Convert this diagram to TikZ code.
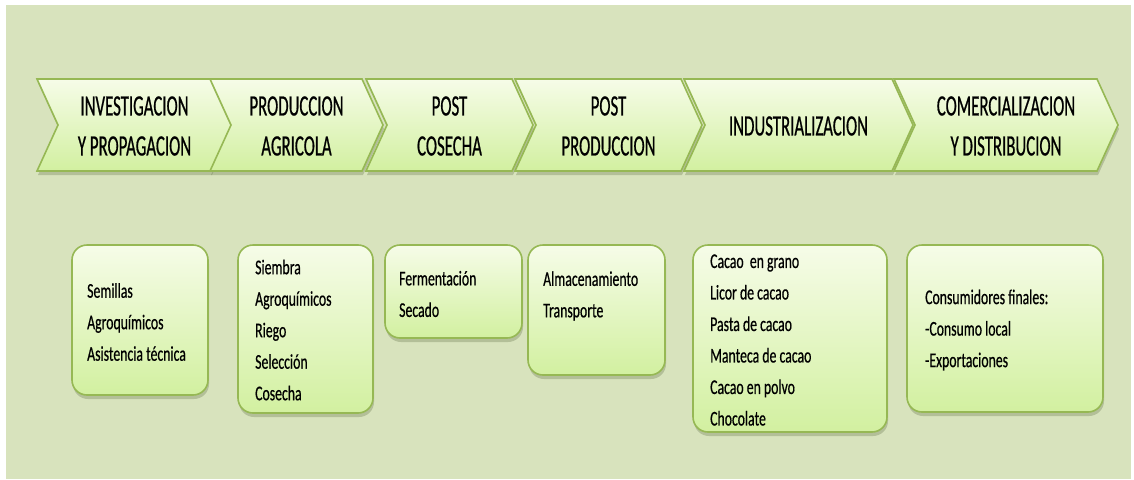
\documentclass[tikz,border=0pt]{standalone}
\usepackage{fontspec}
\setmainfont{Carlito}
\newfontfamily\headfont[FakeStretch=0.57, FakeBold=0.6]{Carlito}
\newfontfamily\itemfont[FakeStretch=0.655, FakeBold=0.5]{Carlito}
\usetikzlibrary{shadows}
\definecolor{bgcol}{RGB}{216,227,189}
\definecolor{edgecol}{RGB}{150,184,84}
\definecolor{lighttop}{RGB}{246,252,232}
\definecolor{greenbot}{RGB}{210,240,160}
\definecolor{shadowcol}{RGB}{110,125,85}
\tikzset{
  softshadow/.style={drop shadow={shadow xshift=1pt, shadow yshift=-4pt, fill=shadowcol, opacity=.35}},
  chevron/.style={draw=edgecol, line width=1.6pt, top color=lighttop, bottom color=greenbot, softshadow},
  headtxt/.style={font=\headfont\fontsize{29.5}{40}\selectfont, align=center, inner sep=0pt},
  itembox/.style={draw=edgecol, line width=1.6pt, rounded corners=15pt, top color=lighttop, bottom color=greenbot, softshadow, inner sep=0pt},
  itemtxt/.style={font=\itemfont\fontsize{21}{31.5}\selectfont, align=left, inner sep=0pt, anchor=west}
}
\begin{document}
\begin{tikzpicture}[x=1pt, y=-1pt]
	\useasboundingbox (0,0) rectangle (1134,479);
	\fill[bgcol] (6,5) rectangle (1131,479);

	% Stages
	\foreach \nm/\xl/\xr/\txt in {inv/37/232/{INVESTIGACION\\Y PROPAGACION}, prod/210/383/{PRODUCCION\\AGRICOLA}, cos/366/533/{POST\\COSECHA}, postp/515/702/{POST\\PRODUCCION}, ind/684/913/{INDUSTRIALIZACION}, com/894/1118/{COMERCIALIZACION\\Y DISTRIBUCION}}{
		\path[chevron] (\xl,79) -- ({\xr-21},79) -- (\xr,125) -- ({\xr-21},171) -- (\xl,171) -- ({\xl+21},125) -- cycle;
		\node[headtxt] (\nm) at ({(\xl+\xr)/2},126) {\txt};
	}

	% Boxes
	\node[itembox, minimum width=136pt, minimum height=150pt] (sem) at (140,320) {};
	\node[itembox, minimum width=135pt, minimum height=168pt] (siem) at (305.5,329) {};
	\node[itembox, minimum width=137pt, minimum height=93pt] (ferm) at (453.5,291.5) {};
	\node[itembox, minimum width=137pt, minimum height=130pt] (alm) at (596.5,310) {};
	\node[itembox, minimum width=194pt, minimum height=187pt] (cac) at (790,338.5) {};
	\node[itembox, minimum width=196pt, minimum height=167pt] (cons) at (1005,328.5) {};

	% Box texts
	\node[itemtxt] (semtxt) at (87,322) {Semillas\\Agroquímicos\\Asistencia técnica};
	\node[itemtxt] (siemtxt) at (255,330) {Siembra\\Agroquímicos\\Riego\\Selección\\Cosecha};
	\node[itemtxt] (fermtxt) at (399,294) {Fermentación\\Secado};
	\node[itemtxt] (almtxt) at (543,296) {Almacenamiento\\Transporte};
	\node[itemtxt] (cactxt) at (710,340) {Cacao~ en grano\\Licor de cacao\\Pasta de cacao\\Manteca de cacao\\Cacao en polvo\\Chocolate};
	\node[itemtxt] (constxt) at (925,330) {Consumidores finales:\\-Consumo local\\-Exportaciones};
\end{tikzpicture}
\end{document}
